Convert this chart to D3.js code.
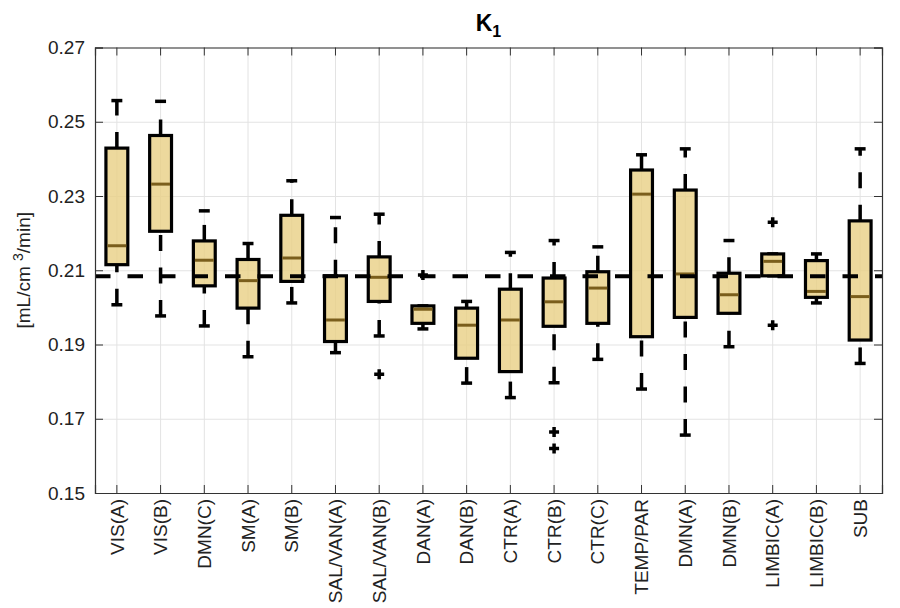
<!DOCTYPE html>
<html>
<head>
<meta charset="utf-8">
<script src="https://cdn.jsdelivr.net/npm/d3@7"></script>
<style>
  body { margin: 0; background: #fff; }
  text { font-family: "Liberation Sans", Arial, Helvetica, sans-serif; }
</style>
</head>
<body>
<div id="chart-container"></div>
<script>
// network names along the x axis
var categories = ["VIS(A)", "VIS(B)", "DMN(C)", "SM(A)", "SM(B)", "SAL/VAN(A)", "SAL/VAN(B)",
  "DAN(A)", "DAN(B)", "CTR(A)", "CTR(B)", "CTR(C)", "TEMP/PAR", "DMN(A)", "DMN(B)",
  "LIMBIC(A)", "LIMBIC(B)", "SUB"];

// box stats per category
var whiskerLow  = [0.2007, 0.1977, 0.1950, 0.1867, 0.2012, 0.1878, 0.1923, 0.1942, 0.1796,
  0.1757, 0.1797, 0.1860, 0.1780, 0.1656, 0.1894, 0.2085, 0.2012, 0.1849];
var q1          = [0.2115, 0.2205, 0.2058, 0.1998, 0.2070, 0.1908, 0.2016, 0.1957, 0.1863,
  0.1827, 0.1949, 0.1957, 0.1921, 0.1973, 0.1984, 0.2085, 0.2027, 0.1912];
var medians     = [0.2166, 0.2332, 0.2127, 0.2072, 0.2133, 0.1966, 0.2081, 0.1995, 0.1952,
  0.1966, 0.2015, 0.2052, 0.2305, 0.2090, 0.2034, 0.2124, 0.2043, 0.2029];
var q3          = [0.2429, 0.2463, 0.2179, 0.2129, 0.2248, 0.2085, 0.2136, 0.2004, 0.1998,
  0.2049, 0.2079, 0.2096, 0.2370, 0.2316, 0.2092, 0.2144, 0.2126, 0.2233];
var whiskerHigh = [0.2557, 0.2555, 0.2260, 0.2172, 0.2341, 0.2242, 0.2251, 0.2004, 0.2016,
  0.2148, 0.2180, 0.2163, 0.2411, 0.2427, 0.2180, 0.2144, 0.2144, 0.2427];

// outliers as [category, value]
var outliers = [["SAL/VAN(B)", 0.1820], ["DAN(A)", 0.2087], ["CTR(B)", 0.1664],
  ["CTR(B)", 0.1620], ["LIMBIC(A)", 0.2229], ["LIMBIC(A)", 0.1952]];

// dashed reference level
var refValue = 0.2084;

var yTicks = [0.15, 0.17, 0.19, 0.21, 0.23, 0.25, 0.27];

// global size variables
var width = 900;
var height = 608;
var margin = { top: 47.5, right: 18, bottom: 115, left: 95 };
var plotW = width - margin.left - margin.right;
var plotH = height - margin.top - margin.bottom;

var svg = d3.select("#chart-container")
  .append("svg")
  .attr("width", width)
  .attr("height", height);

var g = svg.append("g")
  .attr("transform", "translate(" + margin.left + "," + margin.top + ")");

// scales
var x = d3.scaleBand().domain(categories).range([0, plotW]).padding(0);
var y = d3.scaleLinear().domain([0.15, 0.27]).range([plotH, 0]);
var boxW = x.bandwidth() * 0.5;
var cx = function(c) { return x(c) + x.bandwidth() / 2; };

// build rows for the boxes
var boxes = categories.map(function(c, i) {
  return { name: c, lo: whiskerLow[i], q1: q1[i], med: medians[i], q3: q3[i], hi: whiskerHigh[i] };
});

// grid lines
g.append("g")
  .attr("class", "grid")
  .call(d3.axisLeft(y).tickValues(yTicks).tickSize(-plotW).tickFormat(""))
  .call(function(s) { s.select(".domain").remove(); })
  .selectAll("line").attr("stroke", "#e3e3e3");
g.append("g")
  .attr("class", "grid")
  .call(d3.axisBottom(x).tickSize(plotH).tickFormat(""))
  .call(function(s) { s.select(".domain").remove(); })
  .selectAll("line").attr("stroke", "#e3e3e3");

// whiskers: upper goes box -> cap, lower goes cap -> box (sets dash phase)
var whiskers = g.append("g").attr("class", "whiskers");
whiskers.selectAll(".wup")
  .data(boxes.filter(function(d) { return d.hi > d.q3; }))
  .enter().append("line")
  .attr("x1", function(d) { return cx(d.name); })
  .attr("x2", function(d) { return cx(d.name); })
  .attr("y1", function(d) { return y(d.q3); })
  .attr("y2", function(d) { return y(d.hi); })
  .attr("stroke", "#000").attr("stroke-width", 3.5)
  .attr("stroke-dasharray", "16,16.5");
whiskers.selectAll(".wlo")
  .data(boxes.filter(function(d) { return d.lo < d.q1; }))
  .enter().append("line")
  .attr("x1", function(d) { return cx(d.name); })
  .attr("x2", function(d) { return cx(d.name); })
  .attr("y1", function(d) { return y(d.lo); })
  .attr("y2", function(d) { return y(d.q1); })
  .attr("stroke", "#000").attr("stroke-width", 3.5)
  .attr("stroke-dasharray", "16,16.5");

// caps
["lo", "hi"].forEach(function(k) {
  whiskers.selectAll(".cap-" + k)
    .data(boxes)
    .enter().append("line")
    .attr("x1", function(d) { return cx(d.name) - boxW / 4; })
    .attr("x2", function(d) { return cx(d.name) + boxW / 4; })
    .attr("y1", function(d) { return y(d[k]); })
    .attr("y2", function(d) { return y(d[k]); })
    .attr("stroke", "#000").attr("stroke-width", 3.5);
});

// boxes
g.append("g").attr("class", "boxes")
  .selectAll("rect")
  .data(boxes)
  .enter().append("rect")
  .attr("x", function(d) { return cx(d.name) - boxW / 2; })
  .attr("width", boxW)
  .attr("y", function(d) { return y(d.q3); })
  .attr("height", function(d) { return y(d.q1) - y(d.q3); })
  .attr("fill", "#e9cf85")
  .attr("fill-opacity", 0.8)
  .attr("stroke", "#000")
  .attr("stroke-width", 3.2);

// medians
g.append("g").attr("class", "medians")
  .selectAll("line")
  .data(boxes)
  .enter().append("line")
  .attr("x1", function(d) { return cx(d.name) - boxW / 2 + 1.5; })
  .attr("x2", function(d) { return cx(d.name) + boxW / 2 - 1.5; })
  .attr("y1", function(d) { return y(d.med); })
  .attr("y2", function(d) { return y(d.med); })
  .attr("stroke", "#7a5e1c")
  .attr("stroke-width", 3);

// outliers as + markers
g.append("g").attr("class", "outliers")
  .selectAll("path")
  .data(outliers)
  .enter().append("path")
  .attr("transform", function(d) { return "translate(" + cx(d[0]) + "," + y(d[1]) + ")"; })
  .attr("d", "M-5,0H5M0,-5V5")
  .attr("stroke", "#000")
  .attr("stroke-width", 3.5);

// dashed reference line on top of the boxes
g.append("line")
  .attr("x1", 0).attr("x2", plotW)
  .attr("y1", y(refValue)).attr("y2", y(refValue))
  .attr("stroke", "#000")
  .attr("stroke-width", 4)
  .attr("stroke-dasharray", "15.5,17");

// axes with inward ticks (box on)
var axisColor = "#333";
var yAxis = g.append("g")
  .call(d3.axisLeft(y).tickValues(yTicks).tickSize(-8).tickPadding(10)
    .tickFormat(d3.format(".2f")));
g.append("g")
  .attr("transform", "translate(" + plotW + ",0)")
  .call(d3.axisRight(y).tickValues(yTicks).tickSize(-8).tickFormat(""));
var xAxis = g.append("g")
  .attr("transform", "translate(0," + plotH + ")")
  .call(d3.axisBottom(x).tickSize(-8));
g.append("g")
  .call(d3.axisTop(x).tickSize(-8).tickFormat(""));

g.selectAll(".domain, .tick line").filter(function() {
  return !this.closest(".grid");
}).attr("stroke", axisColor);
g.selectAll(".domain").attr("stroke-width", 1.2);

yAxis.selectAll("text")
  .attr("font-size", 19)
  .attr("fill", "#222");

xAxis.selectAll("text")
  .attr("transform", "rotate(-90)")
  .attr("x", -6)
  .attr("y", 0)
  .attr("dy", "0.35em")
  .attr("text-anchor", "end")
  .attr("font-size", 19)
  .attr("fill", "#222");

// y label with superscript
var ylab = svg.append("text")
  .attr("transform", "translate(30," + (margin.top + plotH / 2) + ") rotate(-90)")
  .attr("text-anchor", "middle")
  .attr("font-size", 19)
  .attr("fill", "#222");
ylab.append("tspan").text("[mL/cm ");
ylab.append("tspan").attr("dy", -7).attr("font-size", 14).text("3");
ylab.append("tspan").attr("dy", 7).text("/min]");

// title K with subscript 1
var title = svg.append("text")
  .attr("x", margin.left + plotW / 2)
  .attr("y", 31)
  .attr("text-anchor", "middle")
  .attr("font-size", 23)
  .attr("font-weight", "bold")
  .attr("fill", "#000");
title.append("tspan").text("K");
title.append("tspan").attr("dy", 6).attr("font-size", 16).text("1");
</script>
</body>
</html>
